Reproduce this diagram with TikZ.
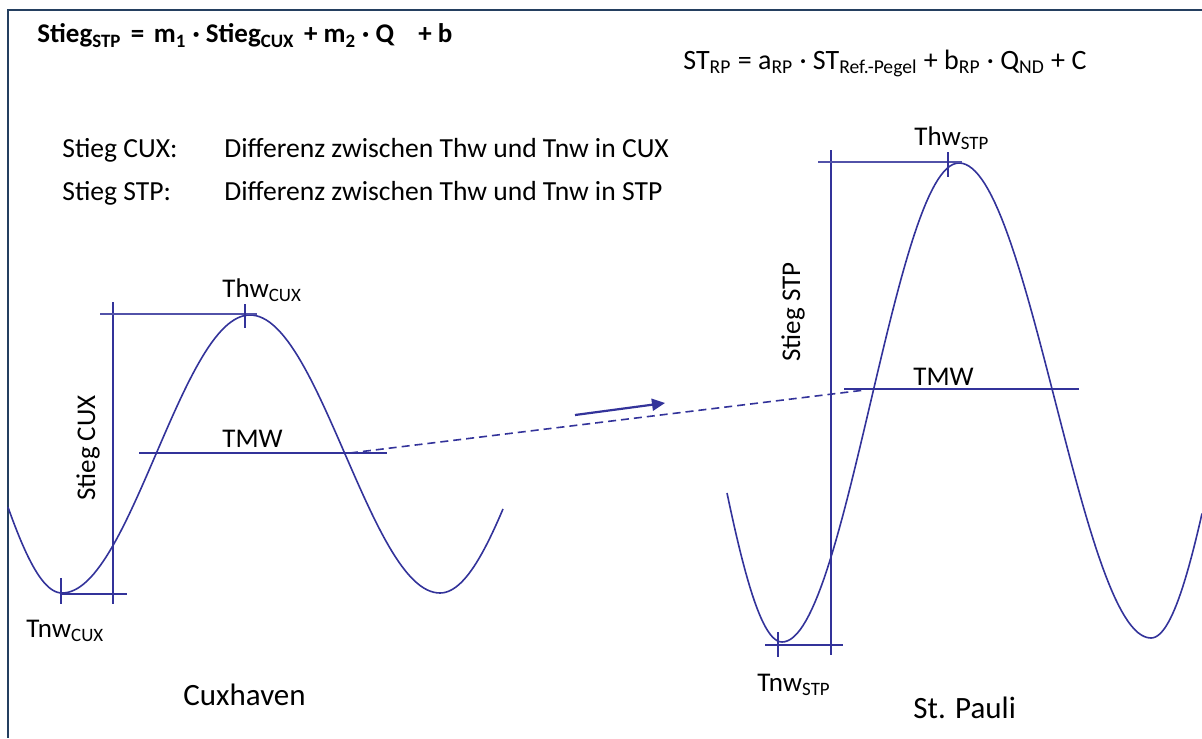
\documentclass[tikz,border=0pt]{standalone}
\usepackage{fontspec}
\setmainfont{Carlito}
\usepackage{xcolor}
\definecolor{cWave} {HTML}{33339A}
\definecolor{cFrame}{HTML}{243F60}
\usepackage{tikz}
\usetikzlibrary{arrows.meta}
\tikzset{
  frm/.style  = {draw=cFrame, line width=1pt},
  wave/.style = {draw=cWave, line width=0.8pt},
  meas/.style = {draw=cWave, line width=1.2pt},
  lvl/.style  = {draw=cWave!85, line width=0.8pt},
  lbl/.style  = {inner sep=0pt, font=\fontsize{13.5}{16}\selectfont},
  txt/.style  = {inner sep=0pt, anchor=base west, font=\fontsize{13.8}{17}\selectfont},
  stn/.style  = {inner sep=0pt, anchor=base west, font=\fontsize{15.5}{18}\selectfont},
  dsh/.style  = {draw=cWave, line width=0.8pt, dash pattern=on 4pt off 2.5pt},
  arr/.style  = {-{Triangle[length=6.5pt,width=6pt]}, draw=cWave, fill=cWave, line width=1.1pt},
}

\begin{document}
\begin{tikzpicture}[x=0.5pt, y=-0.5pt]
  \useasboundingbox (0,0) rectangle (1202,738);
  \draw[frm] (1202,10.5) -- (7.5,10.5) -- (7.5,738);

  % formulas
  \node[txt, font=\fontsize{13.5}{16}\selectfont\bfseries] (fStieg) at (37,43)
    {Stieg\textsubscript{STP}\hspace{0.35em}=\hspace{0.35em}m\textsubscript{1} · Stieg\textsubscript{CUX}\hspace{0.35em}+ m\textsubscript{2} · Q\hspace{0.9em}+ b};
  \node[txt, font=\fontsize{14}{17}\selectfont] (fRP) at (683,69)
    {ST\textsubscript{RP} = a\textsubscript{RP} · ST\textsubscript{Ref.-Pegel} + b\textsubscript{RP} · Q\textsubscript{ND} + C};

  \node[txt] (dCux)  at (62,157)  {Stieg CUX:};
  \node[txt] (dCuxT) at (224,157) {Differenz zwischen Thw und Tnw in CUX};
  \node[txt] (dStp)  at (62,200)  {Stieg STP:};
  \node[txt] (dStpT) at (224,200) {Differenz zwischen Thw und Tnw in STP};

  % Cuxhaven
  \draw[wave] plot[domain=8:62, samples=25] (\x,{454+139*cos((\x-62)/144*180)})
    -- plot[domain=62:250, samples=60] (\x,{454+139*cos((\x-62)/188*180)})
    -- plot[domain=250:440, samples=60] (\x,{454-139*cos((\x-250)/190*180)})
    -- plot[domain=440:503, samples=25] (\x,{454+139*cos((\x-440)/170*180)});

  \coordinate (cuxA) at (113,302);
  \coordinate (cuxB) at (113,604);
  \coordinate (cuxM) at (350,453);
  \draw[meas] (cuxA) -- (cuxB);
  \draw[lvl]  (100,314) -- (257,314);
  \draw[meas] (245,304) -- (245,328);
  \draw[meas] (139,453) -- (387,453);
  \draw[meas] (62,594) -- (127,594);
  \draw[meas] (61,578) -- (61,604);

  \node[lbl, anchor=base west] (thwCux) at (222,297) {Thw\textsubscript{CUX}};
  \node[lbl, anchor=base west] (tmwCux) at (222,447) {TMW};
  \node[lbl, anchor=base west] (tnwCux) at (26,637)  {Tnw\textsubscript{CUX}};
  \node[lbl, rotate=90] (stCux) at (88,448) {Stieg CUX};
  \node[stn] (cux) at (183,705) {Cuxhaven};

  % St. Pauli
  \draw[wave] plot[domain=727:782, samples=25] (\x,{402.5+239.5*cos((\x-782)/146*180)})
    -- plot[domain=782:959, samples=60] (\x,{402.5+239.5*cos((\x-782)/177*180)})
    -- plot[domain=959:1151, samples=60] (\x,{400.5-237.5*cos((\x-959)/192*180)})
    -- plot[domain=1151:1202, samples=25] (\x,{400.5+237.5*cos((\x-1151)/149*180)});

  \coordinate (stpA) at (831,150);
  \coordinate (stpB) at (831,655);
  \coordinate (stpM) at (865,390);
  \draw[meas] (stpA) -- (stpB);
  \draw[lvl]  (818,162) -- (962,162);
  \draw[meas] (948,152) -- (948,177);
  \draw[meas] (844,389) -- (1079,389);
  \draw[meas] (765,645) -- (843,645);
  \draw[meas] (778,632) -- (778,657);

  \node[lbl, anchor=base west] (thwStp) at (914,145) {Thw\textsubscript{STP}};
  \node[lbl, anchor=base west] (tmwStp) at (913,385) {TMW};
  \node[lbl, anchor=base west] (tnwStp) at (757,691) {Tnw\textsubscript{STP}};
  \node[lbl, rotate=90] (stStp) at (793,312) {Stieg STP};
  \node[stn] (stp) at (913,718) {St. Pauli};

  % TMW link
  \draw[dsh] (cuxM) -- (stpM);
  \coordinate (arrA) at (575,415);
  \coordinate (arrB) at (665,403);
  \draw[arr] (arrA) -- (arrB);
\end{tikzpicture}
\end{document}
